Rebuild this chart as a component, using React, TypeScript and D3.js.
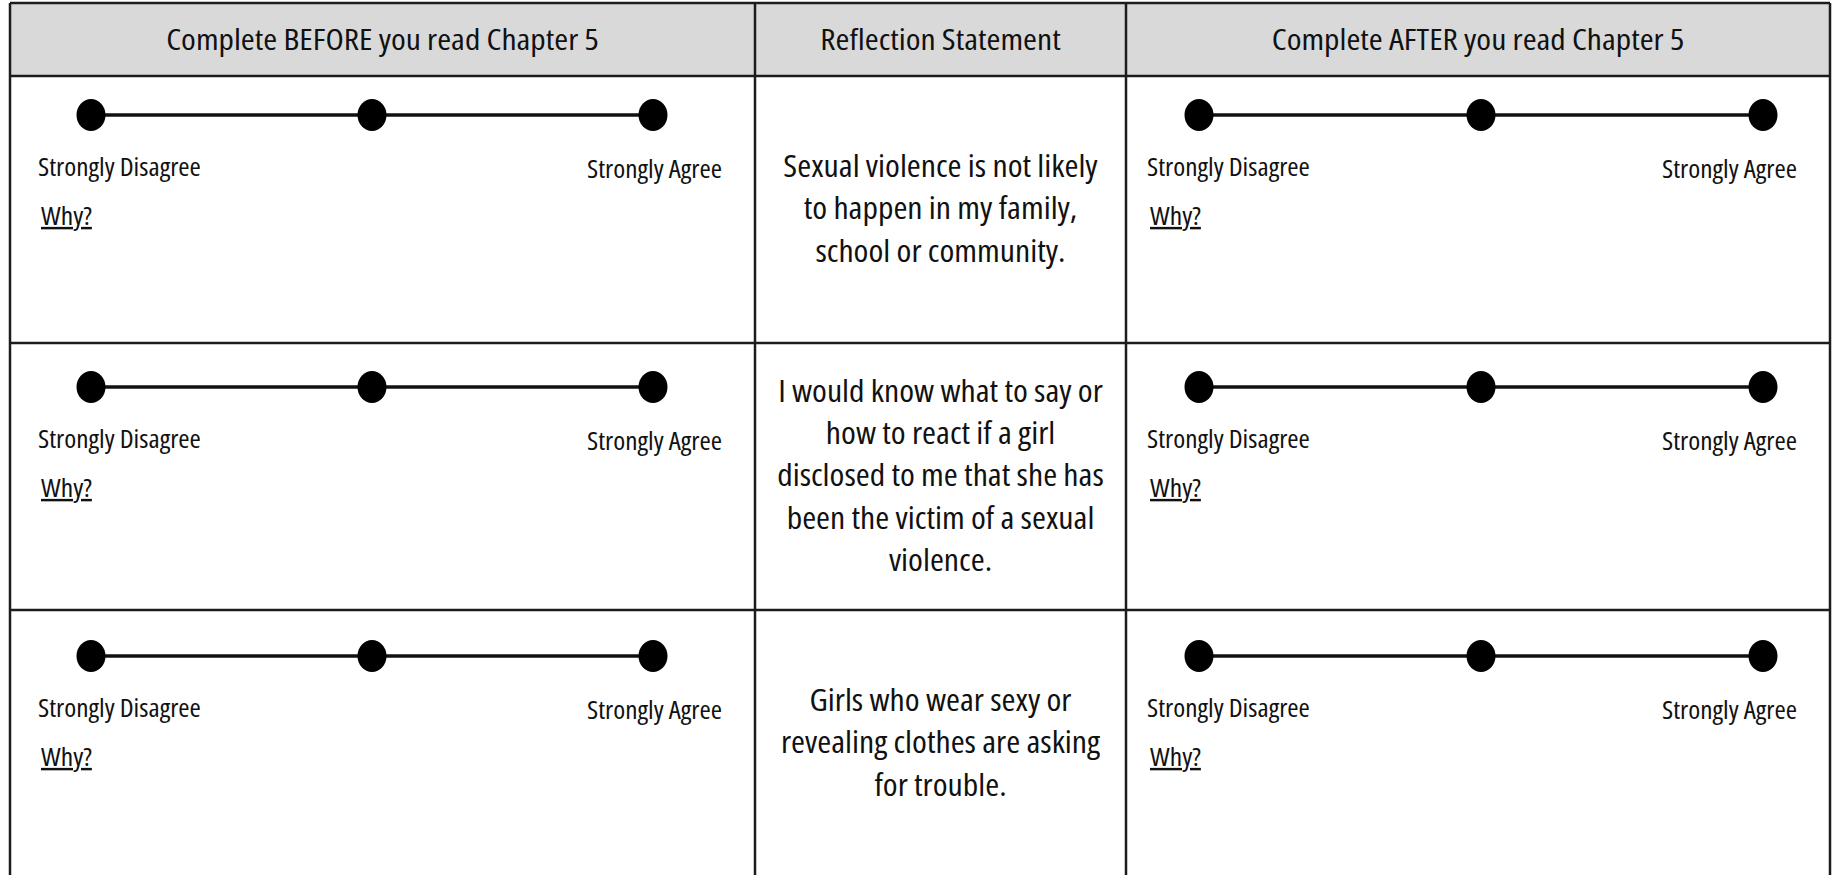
import * as d3 from 'd3';
import type { ReactNode, CSSProperties } from 'react';

const COLUMN_TITLES = [
  'Complete BEFORE you read Chapter 5',
  'Reflection Statement',
  'Complete AFTER you read Chapter 5',
];

const STATEMENTS = [
  ['Sexual violence is not likely', 'to happen in my family,', 'school or community.'],
  [
    'I would know what to say or',
    'how to react if a girl',
    'disclosed to me that she has',
    'been the victim of a sexual',
    'violence.',
  ],
  ['Girls who wear sexy or', 'revealing clothes are asking', 'for trouble.'],
];

const SCALE_POINTS = ['disagree', 'neutral', 'agree'];
const LOW_LABEL = 'Strongly Disagree';
const HIGH_LABEL = 'Strongly Agree';
const PROMPT = 'Why?';

// layout
const W = 1835;
const H = 875;
const colEdges = [10, 755, 1126, 1830];
const tableTop = 3;
const headerBottom = 76;
const rowBottom = 877;
const dotOffsets = [39, 44, 46];
// inset of first / last dot from each rating cell's edges
const scaleInsets = [
  { left: 81, right: 102, label: 28 },
  null,
  { left: 73, right: 67, label: 21 },
];

const FONT = "'Open Sans', 'DejaVu Sans Condensed', sans-serif";
const INK = '#111';
const RULE = '#1c1c1c';

// condensed face is a bit narrower than the original's, widen it slightly
const Txt = ({
  x, y, sx, size, anchor = 'start', style, children,
}: {
  x: number; y: number; sx: number; size: number;
  anchor?: 'start' | 'middle' | 'end'; style?: CSSProperties; children: ReactNode;
}) => (
  <g transform={`translate(${x},${y}) scale(${sx},1)`}>
    <text x={0} y={0} fontSize={size} fill={INK} textAnchor={anchor} style={style}>
      {children}
    </text>
  </g>
);

export default function App() {
  const rowScale = d3.scaleBand<number>()
    .domain(STATEMENTS.map((_, i) => i))
    .range([headerBottom, rowBottom]);

  const rowH = rowScale.bandwidth();

  const ratingCell = (col: number, row: number) => {
    const inset = scaleInsets[col]!;
    const x0 = colEdges[col];
    const x1 = colEdges[col + 1];
    const xs = d3.scalePoint<string>()
      .domain(SCALE_POINTS)
      .range([x0 + inset.left, x1 - inset.right]);
    const y = (rowScale(row) ?? 0) + dotOffsets[row];
    const line = d3.line<string>().x(d => xs(d) ?? 0).y(() => y);
    return (
      <g key={`r-${col}-${row}`}>
        <path d={line(SCALE_POINTS) ?? ''} stroke={INK} strokeWidth={3.5} fill="none" />
        {SCALE_POINTS.map(p => (
          <ellipse key={p} cx={xs(p)} cy={y} rx={14.5} ry={16} fill="#000" />
        ))}
        <Txt x={x0 + inset.label} y={y + 61} sx={1.07} size={25.5}>{LOW_LABEL}</Txt>
        <Txt x={x1 - 33} y={y + 63} sx={1.07} size={25.5} anchor="end">{HIGH_LABEL}</Txt>
        <Txt
          x={x0 + inset.label + 3}
          y={y + 110}
          sx={1.13}
          size={24.5}
          style={{ textDecoration: 'underline' }}
        >
          {PROMPT}
        </Txt>
      </g>
    );
  };

  return (
    <svg
      width={W}
      height={H}
      viewBox={`0 0 ${W} ${H}`}
      style={{
        position: 'absolute', left: 0, top: 0, fontFamily: FONT, fontStretch: '75%',
      }}
    >
      <rect x={0} y={0} width={W} height={H} fill="#fff" />

      {/* header band */}
      <rect
        x={colEdges[0]}
        y={tableTop}
        width={colEdges[3] - colEdges[0]}
        height={headerBottom - tableTop}
        fill="#d9d9d9"
      />
      {COLUMN_TITLES.map((t, i) => (
        <Txt
          key={t}
          x={(colEdges[i] + colEdges[i + 1]) / 2}
          y={(tableTop + headerBottom) / 2 + 10.5}
          sx={1.14}
          size={29.5}
          anchor="middle"
        >
          {t}
        </Txt>
      ))}

      {/* statements */}
      {STATEMENTS.map((lines, r) => {
        const cx = (colEdges[1] + colEdges[2]) / 2;
        const mid = (rowScale(r) ?? 0) + rowH / 2;
        const lh = 42.5;
        const first = mid + 10 - ((lines.length - 1) * lh) / 2;
        return (
          <Txt key={`s-${r}`} x={cx} y={first} sx={1.09} size={31} anchor="middle">
            {lines.map((l, k) => (
              <tspan key={k} x={0} y={k * lh}>{l}</tspan>
            ))}
          </Txt>
        );
      })}

      {/* rating scales */}
      {STATEMENTS.map((_, r) => [ratingCell(0, r), ratingCell(2, r)])}

      {/* grid rules */}
      <g stroke={RULE} strokeWidth={2.5} fill="none">
        <line x1={colEdges[0]} x2={colEdges[3]} y1={tableTop} y2={tableTop} />
        <line x1={colEdges[0]} x2={colEdges[3]} y1={headerBottom} y2={headerBottom} />
        {STATEMENTS.slice(1).map((_, i) => (
          <line
            key={i}
            x1={colEdges[0]}
            x2={colEdges[3]}
            y1={rowScale(i + 1)}
            y2={rowScale(i + 1)}
          />
        ))}
        {colEdges.map((x, i) => (
          <line key={`v${i}`} x1={x} x2={x} y1={tableTop} y2={H} />
        ))}
      </g>
    </svg>
  );
}
